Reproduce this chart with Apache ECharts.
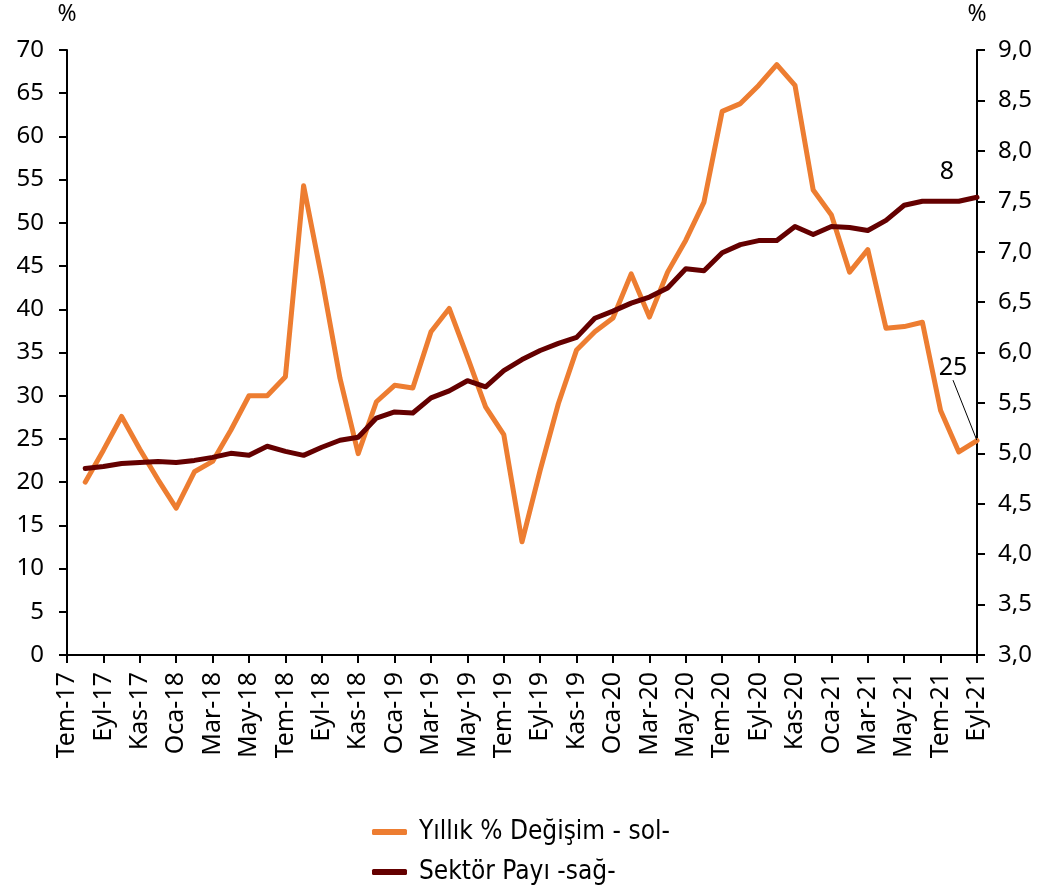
<!DOCTYPE html>
<html>
<head>
<meta charset="utf-8">
<script src="https://cdn.jsdelivr.net/npm/echarts@6/dist/echarts.min.js"></script>
<style>
  html, body { margin: 0; padding: 0; background: #fff; }
  #chart { width: 1043px; height: 887px; }
</style>
</head>
<body>
<div id="chart"></div>
<script>
// aylar: Tem-17 .. Eyl-21
const months = [
  'Tem-17', 'Ağu-17', 'Eyl-17', 'Eki-17', 'Kas-17', 'Ara-17',
  'Oca-18', 'Şub-18', 'Mar-18', 'Nis-18', 'May-18', 'Haz-18',
  'Tem-18', 'Ağu-18', 'Eyl-18', 'Eki-18', 'Kas-18', 'Ara-18',
  'Oca-19', 'Şub-19', 'Mar-19', 'Nis-19', 'May-19', 'Haz-19',
  'Tem-19', 'Ağu-19', 'Eyl-19', 'Eki-19', 'Kas-19', 'Ara-19',
  'Oca-20', 'Şub-20', 'Mar-20', 'Nis-20', 'May-20', 'Haz-20',
  'Tem-20', 'Ağu-20', 'Eyl-20', 'Eki-20', 'Kas-20', 'Ara-20',
  'Oca-21', 'Şub-21', 'Mar-21', 'Nis-21', 'May-21', 'Haz-21',
  'Tem-21', 'Ağu-21', 'Eyl-21'
]

// Yıllık % Değişim (sol eksen)
const yillikDegisim = [
  null, 20.0, 23.7, 27.6, 23.8, 20.3,
  17.0, 21.2, 22.4, 26.0, 30.0, 30.0,
  32.2, 54.3, 43.6, 32.0, 23.3, 29.3,
  31.2, 30.9, 37.4, 40.1, 34.5, 28.7,
  25.5, 13.1, 21.4, 29.1, 35.3, 37.4,
  39.0, 44.1, 39.1, 44.3, 48.0, 52.4,
  62.9, 63.8, 65.9, 68.3, 65.9, 53.8,
  50.9, 44.3, 46.9, 37.8, 38.0, 38.5,
  28.3, 23.5, 24.8
]

// Sektör Payı (sağ eksen)
const sektorPayi = [
  null, 4.85, 4.87, 4.90, 4.91, 4.92,
  4.91, 4.93, 4.96, 5.00, 4.98, 5.07,
  5.02, 4.98, 5.06, 5.13, 5.16, 5.35,
  5.41, 5.40, 5.55, 5.62, 5.72, 5.66,
  5.82, 5.93, 6.02, 6.09, 6.15, 6.34,
  6.41, 6.49, 6.55, 6.64, 6.83, 6.81,
  6.99, 7.07, 7.11, 7.11, 7.25, 7.17,
  7.25, 7.24, 7.21, 7.31, 7.46, 7.50,
  7.50, 7.50, 7.54
]

const seriesNames = ['Yıllık % Değişim - sol-', 'Sektör Payı -sağ-']
const lastLabels = ['25', '8']

const FONT = 'Noto Sans'
const last = months.length - 1

// son noktaya etiket (yalnızca son veri)
function withLastLabel (arr, text) {
  return arr.map((v, i) => i === last
    ? { value: v, symbol: 'circle', symbolSize: 1, label: { show: true, formatter: text } }
    : v)
}

const chart = echarts.init(document.getElementById('chart'), null, { renderer: 'canvas' })

const axisCommon = {
  axisLine: { show: true, lineStyle: { color: '#000', width: 2 } },
  axisTick: { show: true, length: 8, lineStyle: { color: '#000', width: 2 } },
  splitLine: { show: false },
  nameTextStyle: { color: '#000', fontFamily: FONT, fontSize: 23 }
}

const option = {
  backgroundColor: '#fff',
  animation: false,
  grid: { left: 67, right: 66, top: 50, bottom: 232, containLabel: false },
  legend: {
    data: seriesNames,
    orient: 'vertical',
    left: 372,
    bottom: 1,
    padding: 0,
    itemWidth: 35,
    itemHeight: 6,
    itemGap: 12,
    icon: 'roundRect',
    textStyle: {
      color: '#000',
      fontFamily: 'DejaVu Sans Condensed',
      fontSize: 26,
      lineHeight: 28,
      padding: [0, 0, 0, 7]
    }
  },
  xAxis: {
    type: 'category',
    data: months,
    boundaryGap: false,
    axisLine: { lineStyle: { color: '#000', width: 2 } },
    axisTick: { show: true, interval: 1, length: 8, lineStyle: { color: '#000', width: 2 } },
    axisLabel: { interval: 1, rotate: 90, color: '#000', fontFamily: FONT, fontSize: 25, margin: 17 }
  },
  yAxis: [
    Object.assign({}, axisCommon, {
      type: 'value',
      position: 'left',
      min: 0,
      max: 70,
      interval: 5,
      name: '%',
      nameGap: 24,
      axisLabel: { color: '#000', fontFamily: FONT, fontSize: 24, margin: 23 }
    }),
    Object.assign({}, axisCommon, {
      type: 'value',
      position: 'right',
      min: 3,
      max: 9,
      interval: 0.5,
      name: '%',
      nameGap: 24,
      axisLabel: {
        color: '#000',
        fontFamily: FONT,
        fontSize: 24,
        margin: 21,
        formatter: v => v.toFixed(1).replace('.', ',')
      }
    })
  ],
  series: [
    {
      name: seriesNames[0],
      type: 'line',
      yAxisIndex: 0,
      data: withLastLabel(yillikDegisim, lastLabels[0]),
      symbol: 'none',
      showAllSymbol: true,
      color: '#ED7D31',
      lineStyle: { width: 5, color: '#ED7D31', join: 'round', cap: 'round' },
      label: { show: false, color: '#000', fontFamily: FONT, fontSize: 25, position: 'inside' },
      labelLine: { show: true, lineStyle: { color: '#000', width: 1 } },
      labelLayout: p => p.dataIndex === last ? { dx: -24, dy: -73 } : {},
      z: 2
    },
    {
      name: seriesNames[1],
      type: 'line',
      yAxisIndex: 1,
      data: withLastLabel(sektorPayi, lastLabels[1]),
      symbol: 'none',
      showAllSymbol: true,
      color: '#640000',
      lineStyle: { width: 5, color: '#640000', join: 'round', cap: 'round' },
      label: { show: false, color: '#000', fontFamily: FONT, fontSize: 25, position: 'inside' },
      labelLayout: p => p.dataIndex === last ? { dx: -30, dy: -25 } : {},
      z: 3
    }
  ]
}

chart.setOption(option)
</script>
</body>
</html>
